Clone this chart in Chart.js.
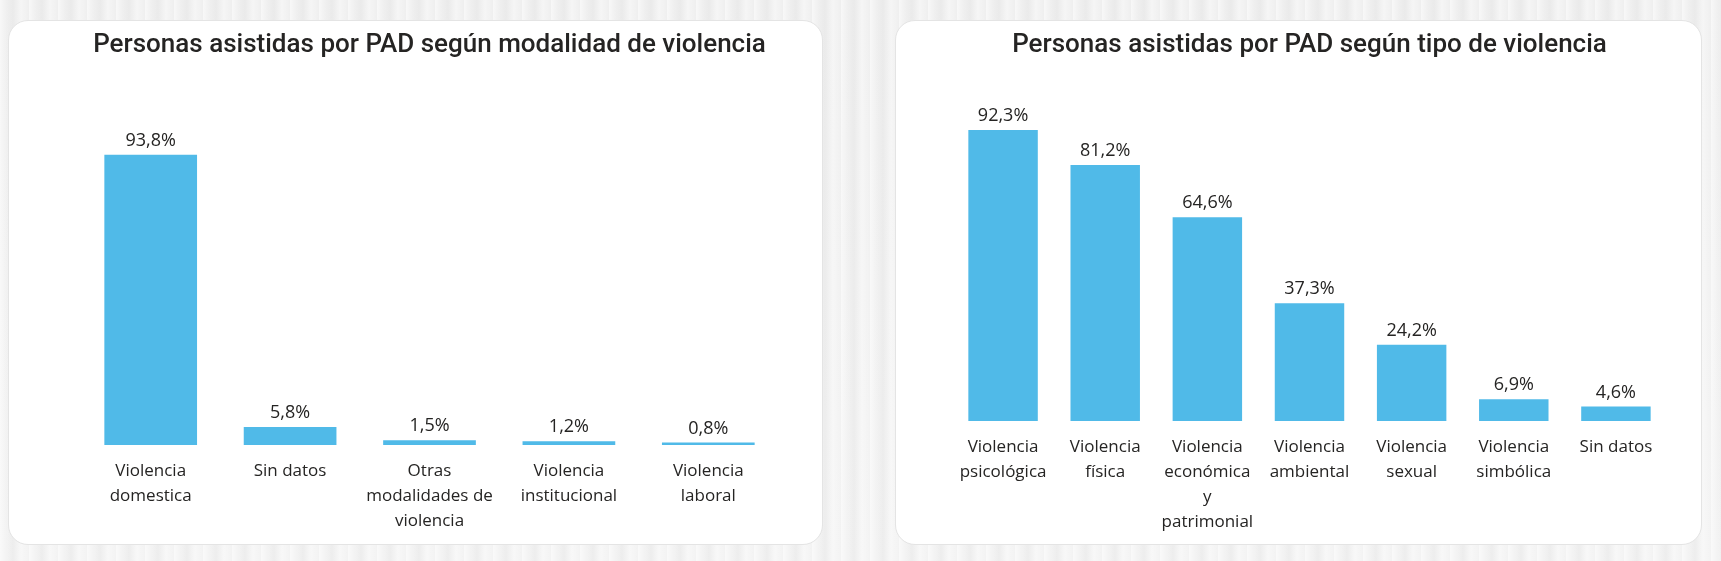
<!DOCTYPE html>
<html>
<head>
<meta charset="utf-8">
<script src="https://cdn.jsdelivr.net/npm/chart.js@4"></script>
<style>
  html, body { margin: 0; padding: 0; }
  body {
    width: 1721px; height: 561px; overflow: hidden; position: relative;
    background-color: #f1f1f1;
    background-image:
      repeating-linear-gradient(90deg, rgba(255,255,255,0.55) 0px, rgba(255,255,255,0) 7px, rgba(220,220,220,0.25) 13px, rgba(255,255,255,0.4) 21px, rgba(255,255,255,0) 29px),
      linear-gradient(180deg, #efefef, #f3f3f3);
  }
  .panel {
    position: absolute; background: #ffffff;
    border: 1px solid #e4e4e4; border-radius: 20px; box-sizing: border-box;
  }
  .panel canvas { position: absolute; left: 0; top: 0; }
</style>
</head>
<body>
<div class="panel" id="p1" style="left:8px; top:20px; width:815px; height:525px;"><canvas id="c1"></canvas></div>
<div class="panel" id="p2" style="left:895px; top:20px; width:807px; height:525px;"><canvas id="c2"></canvas></div>
<script>
// ---- Data ----
const title1 = "Personas asistidas por PAD según modalidad de violencia";
const categories1 = [
  ["Violencia", "domestica"],
  ["Sin datos"],
  ["Otras", "modalidades de", "violencia"],
  ["Violencia", "institucional"],
  ["Violencia", "laboral"]
];
const values1 = [93.8, 5.8, 1.5, 1.2, 0.8];

const title2 = "Personas asistidas por PAD según tipo de violencia";
const categories2 = [
  ["Violencia", "psicológica"],
  ["Violencia", "física"],
  ["Violencia", "económica", "y", "patrimonial"],
  ["Violencia", "ambiental"],
  ["Violencia", "sexual"],
  ["Violencia", "simbólica"],
  ["Sin datos"]
];
const values2 = [92.3, 81.2, 64.6, 37.3, 24.2, 6.9, 4.6];

const barColor = "#50BAE8";
const textColor = "#252423";

const valueLabels = {
  id: 'valueLabels',
  afterDatasetsDraw(chart) {
    const ctx = chart.ctx;
    ctx.save();
    ctx.font = '18px "Open Sans"';
    ctx.fillStyle = textColor;
    ctx.textAlign = 'center';
    ctx.textBaseline = 'bottom';
    const meta = chart.getDatasetMeta(0);
    const data = chart.data.datasets[0].data;
    meta.data.forEach((bar, i) => {
      const txt = data[i].toFixed(1).replace('.', ',') + '%';
      ctx.fillText(txt, bar.x, bar.y - 5);
    });
    ctx.restore();
  }
};

function makeChart(id, w, h, title, cats, vals, opts) {
  const canvas = document.getElementById(id);
  canvas.style.width = w + 'px';
  canvas.style.height = h + 'px';
  canvas.width = w; canvas.height = h;
  return new Chart(canvas, {
    type: 'bar',
    data: {
      labels: cats,
      datasets: [{
        data: vals,
        backgroundColor: barColor,
        borderWidth: 0,
        categoryPercentage: 1.0,
        barPercentage: opts.barPct
      }]
    },
    options: {
      responsive: false,
      animation: false,
      devicePixelRatio: 1,
      layout: { padding: { left: opts.left, right: opts.right, top: 0, bottom: 0 } },
      plugins: {
        legend: { display: false },
        tooltip: { enabled: false },
        title: {
          display: true,
          text: title,
          color: textColor,
          font: { family: 'Roboto', size: 26, weight: '500', lineHeight: 1.2 },
          padding: { top: 9, bottom: opts.titleBottom }
        }
      },
      scales: {
        x: {
          grid: { display: false, drawTicks: false },
          border: { display: false },
          ticks: {
            color: textColor,
            font: { family: 'Open Sans', size: 17, lineHeight: 1.47 },
            padding: opts.tickPad,
            maxRotation: 0, minRotation: 0, autoSkip: false
          },
          afterFit(scale) { scale.height = opts.xHeight; }
        },
        y: {
          display: false,
          min: 0, max: 100
        }
      }
    },
    plugins: [valueLabels]
  });
}

makeChart('c1', 815, 525, title1, categories1, values1,
  { barPct: 0.665, left: 72, right: 46, titleBottom: 74.4, xHeight: 101, tickPad: 14 });
makeChart('c2', 807, 525, title2, categories2, values2,
  { barPct: 0.68, left: 56, right: 36, titleBottom: 44.4, xHeight: 125, tickPad: 14 });
</script>
</body>
</html>
